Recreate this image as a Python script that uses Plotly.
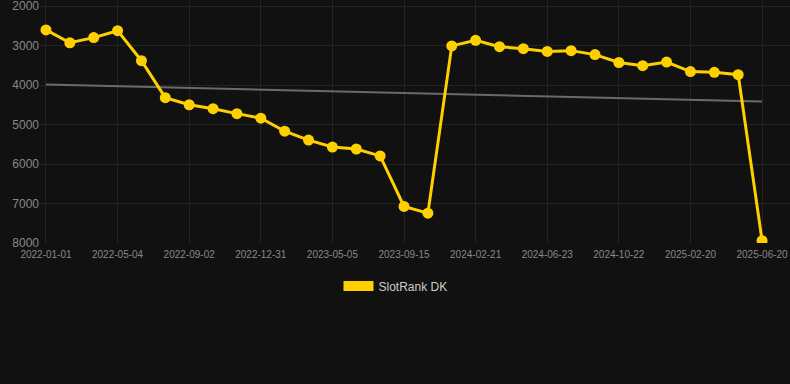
import plotly.graph_objects as go

dates = [
    "2022-01-01", "2022-02-11", "2022-03-24", "2022-05-04", "2022-06-13",
    "2022-07-24", "2022-09-02", "2022-10-12", "2022-11-21", "2022-12-31",
    "2023-02-11", "2023-03-25", "2023-05-05", "2023-06-18", "2023-08-01",
    "2023-09-15", "2023-11-07", "2023-12-30", "2024-02-21", "2024-04-02",
    "2024-05-13", "2024-06-23", "2024-08-02", "2024-09-12", "2024-10-22",
    "2024-12-01", "2025-01-10", "2025-02-20", "2025-04-01", "2025-05-11",
    "2025-06-20",
]
ranks = [
    2605, 2930, 2800, 2625, 3385, 4320, 4500, 4600, 4725, 4840,
    5170, 5395, 5570, 5620, 5795, 7075, 7245, 3010, 2870, 3030,
    3080, 3150, 3130, 3230, 3430, 3510, 3420, 3660, 3680, 3740,
    7940,
]
tick_labels = dates[::3]
y_ticks = [2000, 3000, 4000, 5000, 6000, 7000, 8000]
trend_values = [3990, 4420]

series_name = "SlotRank DK"
gold = "#FFD000"
bg = "#111111"

fig = go.Figure()
fig.add_trace(go.Scatter(
    x=[dates[0], dates[-1]], y=trend_values, mode="lines",
    line=dict(color="#6a6a6a", width=2), showlegend=False, hoverinfo="skip",
))
fig.add_trace(go.Scatter(
    x=dates, y=ranks, mode="lines+markers", name=series_name,
    line=dict(color=gold, width=3), marker=dict(color=gold, size=11),
    showlegend=False, legendgroup="s",
))
fig.add_trace(go.Scatter(
    x=[None], y=[None], mode="lines", name=series_name,
    line=dict(color=gold, width=10), legendgroup="s",
))

fig.update_layout(
    width=790, height=384,
    paper_bgcolor=bg, plot_bgcolor=bg,
    margin=dict(l=40, r=0, t=0, b=141),
    font=dict(family="Liberation Sans, Arial, sans-serif", color="#888888"),
    xaxis=dict(
        type="category", categoryorder="array", categoryarray=dates,
        range=[-0.25, 31.17], tickvals=tick_labels, ticktext=tick_labels,
        tickfont=dict(size=10, color="#888888"), showgrid=True,
        gridcolor="#232323", zeroline=False, showline=False, ticks="",
        ticklabelstandoff=4,
    ),
    yaxis=dict(
        range=[8000, 1848], tickvals=y_ticks,
        tickfont=dict(size=12, color="#888888"), showgrid=True,
        gridcolor="#232323", zeroline=False, showline=False, ticks="",
        ticklabeloverflow="allow",
    ),
    legend=dict(
        orientation="h", x=0.398, xanchor="left", y=-0.177, yanchor="middle",
        font=dict(size=12, color="#cccccc"), bgcolor="rgba(0,0,0,0)",
    ),
)

fig.write_html(
    "out.html",
    config={"displayModeBar": False},
    post_script="document.body.style.margin='0';document.body.style.background='#111111';",
)
